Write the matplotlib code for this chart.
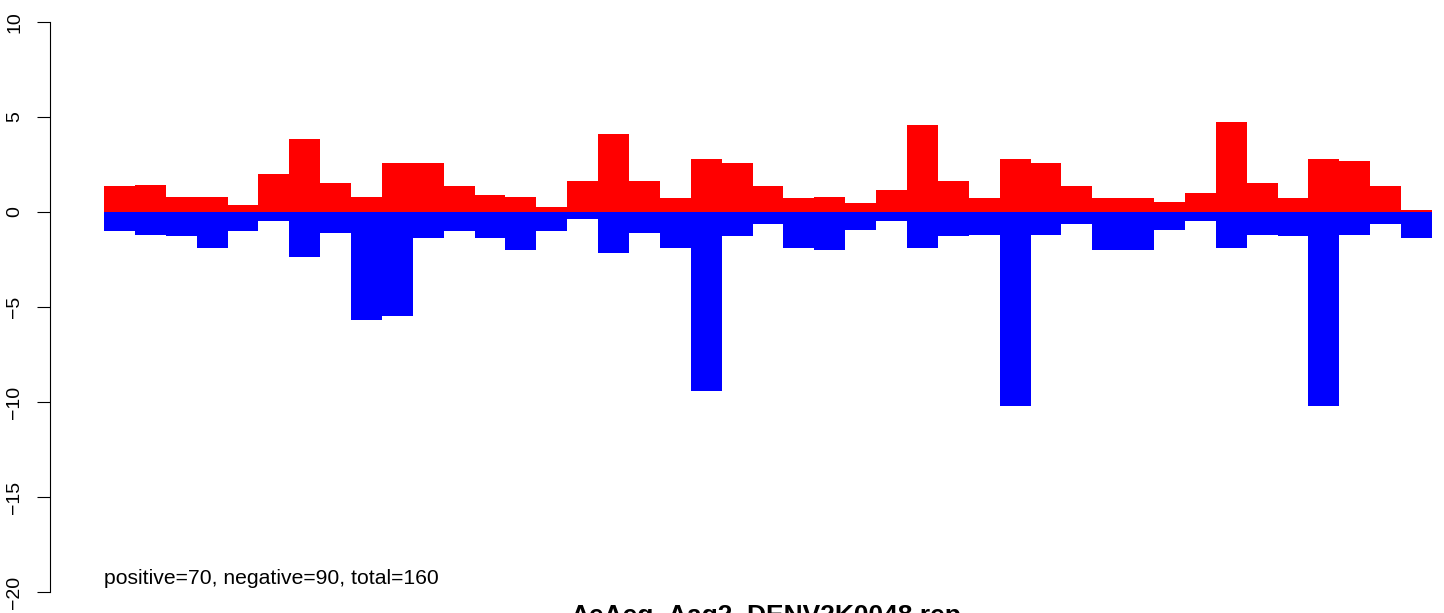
import numpy as np
import matplotlib.pyplot as plt

plt.rcParams['font.family'] = ['Liberation Sans', 'DejaVu Sans']

# values, one per window
positive = [1.37, 1.42, 0.79, 0.79, 0.37, 2.0, 3.84, 1.53, 0.79, 2.58,
            2.58, 1.37, 0.89, 0.79, 0.26, 1.63, 4.1, 1.63, 0.74, 2.79,
            2.58, 1.37, 0.74, 0.79, 0.47, 1.16, 4.58, 1.63, 0.74, 2.79,
            2.58, 1.37, 0.74, 0.74, 0.53, 1.0, 4.74, 1.53, 0.74, 2.79,
            2.68, 1.37, 0.1]
negative = [-1.0, -1.21, -1.26, -1.89, -1.0, -0.47, -2.37, -1.1, -5.68, -5.47,
            -1.37, -1.0, -1.37, -2.0, -1.0, -0.37, -2.16, -1.1, -1.89, -9.42,
            -1.26, -0.63, -1.89, -2.0, -0.95, -0.47, -1.89, -1.26, -1.21, -10.2,
            -1.21, -0.63, -2.0, -2.0, -0.95, -0.47, -1.89, -1.21, -1.26, -10.2,
            -1.21, -0.63, -1.37]
yticks = [-20, -15, -10, -5, 0, 5, 10]
title = "AeAeg_Aag2_DENV2K0048.rep"
note = "positive=70, negative=90, total=160"

W, H = 1444, 613
fig = plt.figure(figsize=(W / 100, H / 100), dpi=100)
# axes spans from the y axis line (x=50px) to the right edge
ax = fig.add_axes([50 / W, 0, 1 - 50 / W, 1])

x = np.arange(len(positive))
ax.bar(x, positive, width=1.0, align='edge', color='#ff0000', linewidth=0)
ax.bar(x, negative, width=1.0, align='edge', color='#0000ff', linewidth=0)

px = 30.88  # pixels per bar
ax.set_xlim(-54 / px, len(positive) + (W - 1432) / px)
ax.set_ylim(-(H - 212) / 19, 212 / 19)

for s in ['top', 'right', 'bottom']:
    ax.spines[s].set_visible(False)
ax.spines['left'].set_bounds(-20, 10)
ax.spines['left'].set_linewidth(0.8)
ax.set_xticks([])
ax.set_yticks(yticks)
ax.set_yticklabels([str(t).replace('-', '\u2212') for t in yticks],
                   rotation=90, va='center')
ax.tick_params(axis='y', length=9.4, width=0.8, labelsize=14, pad=10)

ax.text(0, -19.6, note, fontsize=15.2, ha='left', va='baseline')
fig.text(766 / W, 1 - 623 / H, title, fontsize=19, fontweight='bold',
         ha='center', va='baseline')

fig.savefig('out.png', dpi=100)
